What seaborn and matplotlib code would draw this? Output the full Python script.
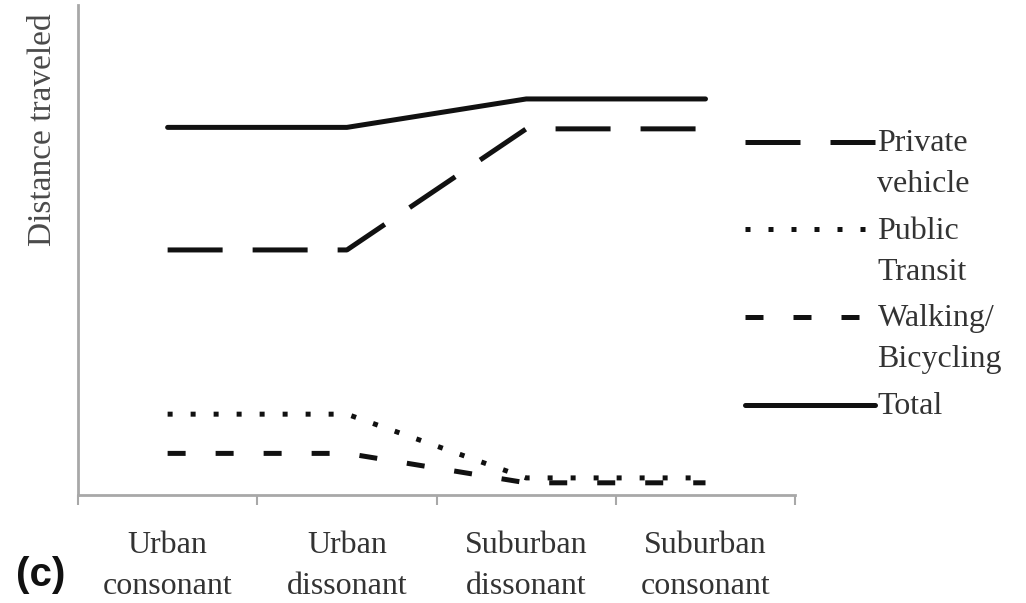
import numpy as np
import pandas as pd
import matplotlib.pyplot as plt
import seaborn as sns

# categories along the x axis
settings = ['Urban\nconsonant', 'Urban\ndissonant', 'Suburban\ndissonant', 'Suburban\nconsonant']

# distance travelled by mode (axis 0-100)
private_vehicle = [50, 50, 74.7, 74.7]
public_transit = [16.5, 16.5, 3.5, 3.5]
walking_bicycling = [8.5, 8.5, 2.5, 2.5]
total = [75, 75, 80.8, 80.8]

series_names = ['Private\nvehicle', 'Public\nTransit', 'Walking/\nBicycling', 'Total']
series_values = [private_vehicle, public_transit, walking_bicycling, total]
line_styles = [(0, (11, 6)), (0, (1, 3.6)), (0, (3.6, 6.0)), '-']

sns.set_style('white')
plt.rcParams['font.family'] = ['Liberation Serif', 'DejaVu Serif']

fig = plt.figure(figsize=(10.26, 6.03), dpi=100)
ax = fig.add_axes([0.076, 0.179, 0.699, 0.813])

for name, vals, ls in zip(series_names, series_values, line_styles):
    df = pd.DataFrame({'setting': settings, 'distance': vals})
    sns.lineplot(data=df, x='setting', y='distance', ax=ax, color='#111111',
                 linewidth=3.6, linestyle=ls, label=name, sort=False)

ax.set_xlim(-0.5, 3.5)
ax.set_ylim(0, 100)
ax.set_yticks([])
ax.set_xticks(np.arange(-0.5, 4.0, 1.0))
ax.set_xticklabels([])
ax.set_xticks(np.arange(4), minor=True)
ax.set_xticklabels(settings, minor=True, fontsize=23, color='#333333', linespacing=1.55)
ax.tick_params(axis='x', which='major', length=7, width=1.5, color='#a8a8a8', direction='out', bottom=True)
ax.tick_params(axis='x', which='minor', length=0, pad=26)
for s in ['top', 'right']:
    ax.spines[s].set_visible(False)
for s in ['left', 'bottom']:
    ax.spines[s].set_color('#a8a8a8')
    ax.spines[s].set_linewidth(2)

ax.set_xlabel('')
ax.set_ylabel('Distance traveled', fontsize=24, color='#4a4a4a')
ax.yaxis.set_label_coords(-0.028, 0.745)

leg_fs = 23
leg = ax.legend(loc='upper left', bbox_to_anchor=(0.726, 0.786), bbox_transform=fig.transFigure,
                frameon=False, fontsize=leg_fs, handlelength=4.07, handletextpad=0.08,
                labelspacing=0.55, borderpad=0, borderaxespad=0, labelcolor='#333333')
for t in leg.get_texts():
    t.set_linespacing(1.55)

# put each key level with the first line of its label, as in the original
fig.canvas.draw()
renderer = fig.canvas.get_renderer()
fs_px = leg_fs * fig.dpi / 72
for line, text in zip(leg.get_lines(), leg.get_texts()):
    ext = text.get_window_extent(renderer)
    target = ext.y1 - 0.4 * fs_px
    tr = line.get_transform()
    xd = np.asarray(line.get_xdata(), dtype=float)
    yd = np.asarray(line.get_ydata(), dtype=float)
    x_disp = tr.transform((xd[0], yd[0]))[0]
    new_y = tr.inverted().transform((x_disp, target))[1]
    line.set_ydata(np.full_like(yd, new_y))

fig.text(0.016, 0.046, '(c)', fontsize=29, fontweight='bold', family='Liberation Sans',
         color='#111111', va='center')

plt.savefig('out.png', dpi=100)
